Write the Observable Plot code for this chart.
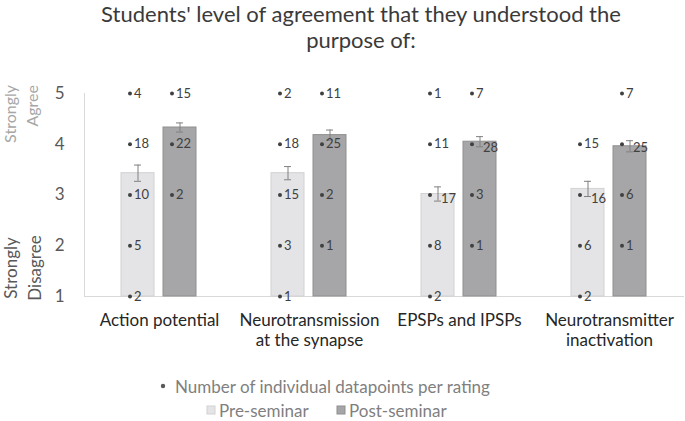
<!DOCTYPE html>
<html><head><meta charset="utf-8">
<script src="https://cdn.jsdelivr.net/npm/d3@7"></script>
<script src="https://cdn.jsdelivr.net/npm/@observablehq/plot@0.6"></script>
<style>body{margin:0;background:#fff;}</style>
</head><body><div id="chart"></div>
<script>
// ---- data ----
const titleLines = ["Students' level of agreement that they understood the", "purpose of:"];
const topics = ["Action potential", "Neurotransmission at the synapse", "EPSPs and IPSPs", "Neurotransmitter inactivation"];
const topicLabels = ["Action potential", "Neurotransmission\nat the synapse", "EPSPs and IPSPs", "Neurotransmitter\ninactivation"];
const sessions = ["Pre-seminar", "Post-seminar"];
const preMean = [3.43, 3.43, 3.02, 3.12];
const preErr = [0.16, 0.13, 0.14, 0.15];
const postMean = [4.33, 4.18, 4.05, 3.96];
const postErr = [0.09, 0.10, 0.10, 0.11];
const ratings = [1, 2, 3, 4, 5];
// number of students giving each rating (1..5)
const preCounts = [[2, 5, 10, 18, 4], [1, 3, 15, 18, 2], [2, 8, 17, 11, 1], [2, 6, 16, 15, 0]];
const postCounts = [[0, 0, 2, 22, 15], [0, 1, 2, 25, 11], [0, 1, 3, 28, 7], [0, 1, 6, 25, 7]];
const yTicks = [1, 2, 3, 4, 5];
const dotLegend = "Number of individual datapoints per rating";

const preFill = "#e4e4e6", preStroke = "#d2d2d4";
const postFill = "#a6a6a8", postStroke = "#8f8f91";

// ---- tables ----
const bars = [];
topics.forEach((t, i) => {
  bars.push({topic: t, session: sessions[0], mean: preMean[i], err: preErr[i]});
  bars.push({topic: t, session: sessions[1], mean: postMean[i], err: postErr[i]});
});
const dots = [];
topics.forEach((t, i) => {
  ratings.forEach((r, j) => {
    const add = (s, c, m, e) => { if (c > 0) dots.push({topic: t, session: s, rating: r, count: c, nearErr: Math.abs(r - m) <= e + 0.05}); };
    add(sessions[0], preCounts[i][j], preMean[i], preErr[i]);
    add(sessions[1], postCounts[i][j], postMean[i], postErr[i]);
  });
});

const W = 685, H = 421;
const FONT = "Lato, 'Open Sans', sans-serif";
const svg = Plot.plot({
  width: W, height: H,
  marginLeft: 83, marginRight: 0, marginTop: 93, marginBottom: 125,
  style: {fontFamily: FONT, background: "#fff", overflow: "visible"},
  fx: {domain: topics, padding: 0, label: null},
  x: {domain: sessions, paddingInner: 0.21, paddingOuter: 0.86, axis: null},
  y: {domain: [1, 5], axis: null},
  marks: [
    Plot.ruleY([1], {stroke: "#d9d9d9"}),
    Plot.frame({anchor: "left", facetAnchor: "left", stroke: "#d9d9d9"}),
    Plot.axisY({ticks: yTicks, tickFormat: d => String(d), tickSize: 0, tickPadding: 20, fontSize: 17, fill: "#595959", label: null}),
    Plot.axisFx({anchor: "bottom", tickSize: 0, tickPadding: 15, fontSize: 17, fill: "#262626", label: null, lineHeight: 1.2,
      tickFormat: d => topicLabels[topics.indexOf(d)]}),
    Plot.barY(bars.filter(d => d.session === sessions[0]), {fx: "topic", x: "session", y1: 1, y2: "mean", fill: preFill, stroke: preStroke}),
    Plot.barY(bars.filter(d => d.session === sessions[1]), {fx: "topic", x: "session", y1: 1, y2: "mean", fill: postFill, stroke: postStroke}),
    Plot.ruleX(bars, {fx: "topic", x: "session", y1: d => d.mean - d.err, y2: d => d.mean + d.err, stroke: "#808080"}),
    Plot.tickY(bars, {fx: "topic", x: "session", y: d => d.mean - d.err, inset: 13, stroke: "#808080"}),
    Plot.tickY(bars, {fx: "topic", x: "session", y: d => d.mean + d.err, inset: 13, stroke: "#808080"}),
    Plot.dot(dots, {fx: "topic", x: "session", y: "rating", r: 2, fill: "#404040", stroke: null, dx: -8}),
    Plot.text(dots.filter(d => !d.nearErr), {fx: "topic", x: "session", y: "rating", text: "count", dx: -4, textAnchor: "start", fontSize: 13, fill: "#404040"}),
    Plot.text(dots.filter(d => d.nearErr), {fx: "topic", x: "session", y: "rating", text: "count", dx: 3, dy: 4, textAnchor: "start", fontSize: 13, fill: "#404040"})
  ]
});
document.getElementById("chart").appendChild(svg);

const s = d3.select(svg);
// title
s.append("g").selectAll("text").data(titleLines).join("text")
  .attr("x", 361).attr("y", (d, i) => 22 + i * 26)
  .attr("text-anchor", "middle").attr("font-size", 22).attr("fill", "#3a3a3a").attr("font-family", FONT)
  .text(d => d);
// side labels
const side = [
  {lines: ["Strongly", "Agree"], xs: [9, 31], y: 85, anchor: "end", size: 16, color: "#a6a6a6"},
  {lines: ["Strongly", "Disagree"], xs: [10, 34], y: 268, anchor: "middle", size: 17, color: "#595959"}
];
side.forEach(g => g.lines.forEach((l, i) => {
  s.append("text").attr("transform", `translate(${g.xs[i]},${g.y}) rotate(-90)`)
    .attr("text-anchor", g.anchor).attr("dominant-baseline", "central")
    .attr("font-size", g.size).attr("fill", g.color).attr("font-family", FONT).text(l);
}));
// legend
const lg = s.append("g").attr("font-family", FONT).attr("font-size", 17).attr("fill", "#7f7f7f").attr("text-anchor", "start");
lg.append("circle").attr("cx", 163).attr("cy", 386).attr("r", 2.2).attr("fill", "#595959");
lg.append("text").attr("x", 175).attr("y", 386).attr("dominant-baseline", "central").text(dotLegend);
const sw = [{x: 207, fill: preFill, stroke: preStroke}, {x: 337, fill: postFill, stroke: postStroke}];
sw.forEach((d, i) => {
  lg.append("rect").attr("x", d.x).attr("y", 406).attr("width", 8).attr("height", 8).attr("fill", d.fill).attr("stroke", d.stroke);
  lg.append("text").attr("x", d.x + 12).attr("y", 410).attr("dominant-baseline", "central").text(sessions[i]);
});
</script>
</body></html>
